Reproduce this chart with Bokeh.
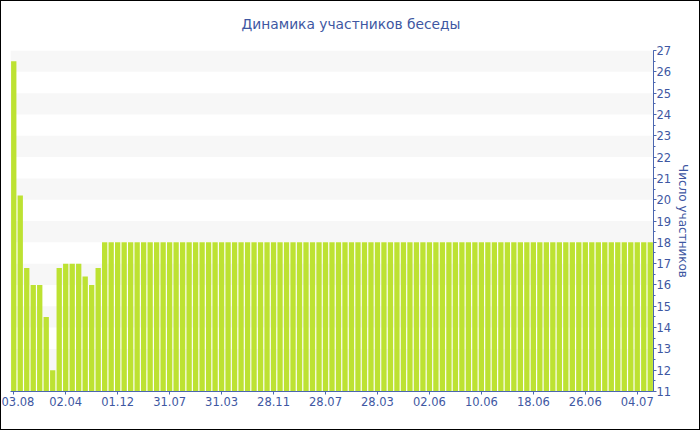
from bokeh.plotting import figure
from bokeh.models import FixedTicker, SingleIntervalTicker, LinearAxis, Range1d, Title
from bokeh.embed import file_html
from bokeh.resources import INLINE

title_text = "Динамика участников беседы"
y_label = "Число участников"

tick_positions = [0, 8, 16, 24, 32, 40, 48, 56, 64, 72, 80, 88, 96]
tick_labels = ["03.08", "02.04", "01.12", "31.07", "31.03", "28.11", "28.07",
               "28.03", "02.06", "10.06", "18.06", "26.06", "04.07"]

participants = [
    26.5, 20.2, 16.8, 16, 16, 14.5, 12, 16.8, 17, 17, 17, 16.4, 16, 16.8,
    18, 18, 18, 18, 18, 18, 18, 18, 18, 18, 18, 18, 18, 18, 18, 18, 18,
    18, 18, 18, 18, 18, 18, 18, 18, 18, 18, 18, 18, 18, 18, 18, 18, 18,
    18, 18, 18, 18, 18, 18, 18, 18, 18, 18, 18, 18, 18, 18, 18, 18, 18,
    18, 18, 18, 18, 18, 18, 18, 18, 18, 18, 18, 18, 18, 18, 18, 18, 18,
    18, 18, 18, 18, 18, 18, 18, 18, 18, 18, 18, 18, 18, 18, 18, 18, 18,
]
index = list(range(len(participants)))

y_min, y_max = 11, 27

TEXT = "#3e57a2"
AXIS = "#4b66b0"
FONT = "DejaVu Sans"

p = figure(width=700, height=430, output_backend="svg", toolbar_location=None,
           x_range=Range1d(-0.5, len(participants) - 0.5),
           y_range=Range1d(y_min, y_max),
           min_border_left=9, min_border_right=48, min_border_top=49,
           min_border_bottom=40, y_axis_location=None, x_axis_location=None)
p.outline_line_color = None
p.background_fill_color = "white"
p.border_fill_color = "white"
p.styles = {"border": "1px solid black", "box-sizing": "border-box"}

# trailing blank line lifts the title within its panel
p.title = Title(text=title_text + "\n ", align="left",
                text_font=FONT, text_font_size="13.8px", text_font_style="normal",
                text_color=TEXT, standoff=6, offset=231)

p.vbar(x=index, top=participants, bottom=0, width=0.82,
       fill_color="#bde232", line_color=None)

xaxis = LinearAxis(ticker=FixedTicker(ticks=tick_positions),
                   major_label_overrides={t: l for t, l in zip(tick_positions, tick_labels)})
xaxis.axis_line_color = AXIS
xaxis.major_tick_line_color = AXIS
xaxis.major_tick_out = 3
xaxis.major_tick_in = 0
xaxis.minor_tick_line_color = None
xaxis.major_label_text_font = FONT
xaxis.major_label_text_font_size = "11.5px"
xaxis.major_label_text_color = TEXT
xaxis.major_label_standoff = 2
p.add_layout(xaxis, "below")

yticker = SingleIntervalTicker(interval=1, num_minor_ticks=2)
yaxis = LinearAxis(ticker=yticker, axis_label=y_label)
yaxis.axis_line_color = AXIS
yaxis.major_tick_line_color = AXIS
yaxis.minor_tick_line_color = AXIS
yaxis.major_tick_out = 3
yaxis.major_tick_in = 0
yaxis.minor_tick_out = 2
yaxis.minor_tick_in = 0
yaxis.major_label_text_font = FONT
yaxis.major_label_text_font_size = "11.5px"
yaxis.major_label_text_color = TEXT
yaxis.major_label_standoff = 0
yaxis.axis_label_text_font = FONT
yaxis.axis_label_text_font_size = "12px"
yaxis.axis_label_text_font_style = "normal"
yaxis.axis_label_text_color = TEXT
yaxis.axis_label_standoff = 2
p.add_layout(yaxis, "right")

p.xgrid.visible = False
p.ygrid.ticker = yticker
p.ygrid.grid_line_color = None
p.ygrid.band_fill_color = "#f7f7f7"
p.ygrid.band_fill_alpha = 1.0

open("out.html", "w").write(file_html(p, INLINE))
